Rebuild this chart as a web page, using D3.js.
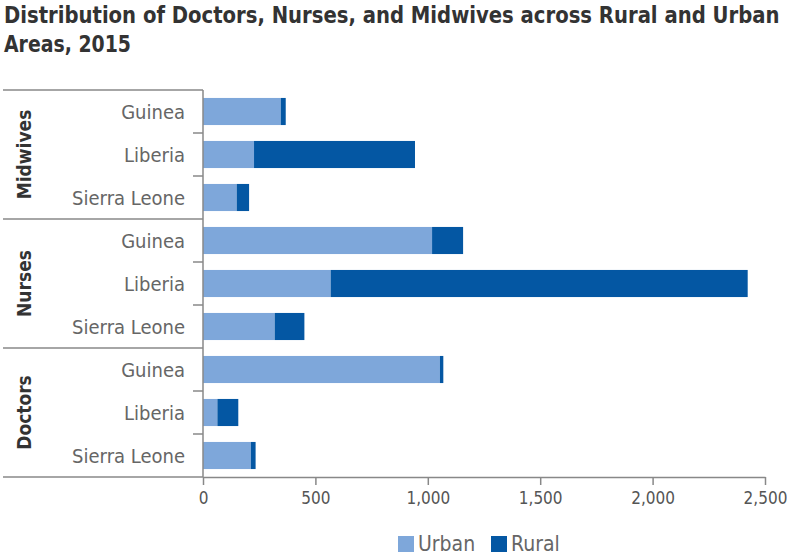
<!DOCTYPE html>
<html>
<head>
<meta charset="utf-8">
<script src="https://cdn.jsdelivr.net/npm/d3@7"></script>
<style>
  body { margin: 0; background: #fff; }
  text { font-family: "DejaVu Sans", "Roboto", sans-serif; font-stretch: condensed; }
</style>
</head>
<body>
<script>
'use strict';
// data
const groups = ['Midwives', 'Nurses', 'Doctors'];
const countries = ['Guinea', 'Liberia', 'Sierra Leone'];
// one value per group x country, in the order above
const urbanValues = [346, 227, 150, 1019, 568, 319, 1054, 64, 213];
const ruralValues = [22, 716, 55, 138, 1855, 132, 15, 93, 21];
const xTicks = [0, 500, 1000, 1500, 2000, 2500];
const seriesNames = ['Urban', 'Rural'];

(function() {
    let colors = { Urban: '#7ea7da', Rural: '#0457a3' };
    let dims = { left: 203, right: 765, top: 90, bottom: 477 };

    let rows = [];
    groups.forEach((g, gi) => {
        countries.forEach((c, ci) => {
            let i = gi * countries.length + ci;
            rows.push({ key: g + '|' + c, group: g, country: c, Urban: urbanValues[i], Rural: ruralValues[i] });
        });
    });

    let svg = d3.select('body').append('svg')
                .attr('width', 787)
                .attr('height', 556);

    // title, squeezed horizontally to the width the reference uses (condensed face)
    let titleLines = [
        { text: 'Distribution of Doctors, Nurses, and Midwives across Rural and Urban', y: 23, w: 776 },
        { text: 'Areas, 2015', y: 52, w: 127 }
    ];
    svg.append('g').selectAll('text')
       .data(titleLines)
       .enter()
       .append('text')
       .style('font-size', '23px')
       .style('font-weight', 'bold')
       .attr('fill', '#333')
       .text((d) => d.text)
       .attr('transform', function(d) {
           let sx = d.w / this.getComputedTextLength();
           return 'translate(4,' + d.y + ')scale(' + sx + ',1)';
       });

    let x = d3.scaleLinear().domain([0, 2500]).range([dims.left, dims.right]);
    let y = d3.scaleBand()
              .domain(rows.map((d) => d.key))
              .range([dims.top, dims.bottom])
              .paddingInner(0.37)
              .paddingOuter(0.185);

    // stacked bars
    let stack = d3.stack().keys(seriesNames)(rows);
    svg.append('g').selectAll('g')
       .data(stack)
       .enter()
       .append('g')
       .attr('fill', (s) => colors[s.key])
       .selectAll('rect')
       .data((s) => s)
       .enter()
       .append('rect')
       .attr('x', (d) => x(d[0]))
       .attr('y', (d) => y(d.data.key))
       .attr('width', (d) => x(d[1]) - x(d[0]))
       .attr('height', y.bandwidth());

    // x axis
    let xAxis = svg.append('g')
                   .attr('transform', 'translate(0,' + dims.bottom + ')')
                   .call(d3.axisBottom(x).tickValues(xTicks).tickSize(8).tickSizeOuter(0).tickPadding(7).tickFormat(d3.format(',')));
    xAxis.select('.domain').attr('stroke', '#888').attr('stroke-width', 1.5);
    xAxis.selectAll('.tick line').attr('stroke', '#888').attr('stroke-width', 1.5);
    xAxis.selectAll('.tick text')
         .attr('fill', '#555')
         .style('font-size', '17px')
         .style('font-family', '"DejaVu Sans", sans-serif');

    // y axis: vertical line, row ticks and group separators
    let step = y.step();
    let axisColor = '#888';
    svg.append('line')
       .attr('x1', dims.left).attr('x2', dims.left)
       .attr('y1', dims.top).attr('y2', dims.bottom)
       .attr('stroke', axisColor).attr('stroke-width', 1.5);

    groups.forEach((g, gi) => {
        let top = dims.top + gi * countries.length * step;
        svg.append('line')
           .attr('x1', 3).attr('x2', dims.left)
           .attr('y1', top).attr('y2', top)
           .attr('stroke', axisColor).attr('stroke-width', 1.5);
        for (let k = 1; k < countries.length; k++) {
            svg.append('line')
               .attr('x1', dims.left - 10).attr('x2', dims.left)
               .attr('y1', top + k * step).attr('y2', top + k * step)
               .attr('stroke', axisColor).attr('stroke-width', 1.5);
        }
        svg.append('text')
           .attr('transform', 'translate(31,' + (top + countries.length * step / 2) + ')rotate(-90)')
           .attr('text-anchor', 'middle')
           .style('font-size', '19px')
           .style('font-weight', 'bold')
           .attr('fill', '#333')
           .text(g);
    });
    svg.append('line')
       .attr('x1', 3).attr('x2', dims.left)
       .attr('y1', dims.bottom).attr('y2', dims.bottom)
       .attr('stroke', axisColor).attr('stroke-width', 1.5);

    // country labels
    svg.append('g').selectAll('text')
       .data(rows)
       .enter()
       .append('text')
       .attr('x', 185)
       .attr('y', (d) => y(d.key) + y.bandwidth() / 2)
       .attr('dy', '0.35em')
       .attr('text-anchor', 'end')
       .style('font-size', '20px')
       .attr('fill', '#666')
       .text((d) => d.country);

    // legend
    let legendX = [398, 491];
    let legend = svg.append('g').selectAll('g')
                    .data(seriesNames)
                    .enter()
                    .append('g')
                    .attr('transform', (d, i) => 'translate(' + legendX[i] + ',536)');
    legend.append('rect')
          .attr('width', 16).attr('height', 16)
          .attr('fill', (d) => colors[d]);
    legend.append('text')
          .attr('x', 20).attr('y', 15)
          .style('font-size', '21px')
          .attr('fill', '#666')
          .text((d) => d);
})();
</script>
</body>
</html>
